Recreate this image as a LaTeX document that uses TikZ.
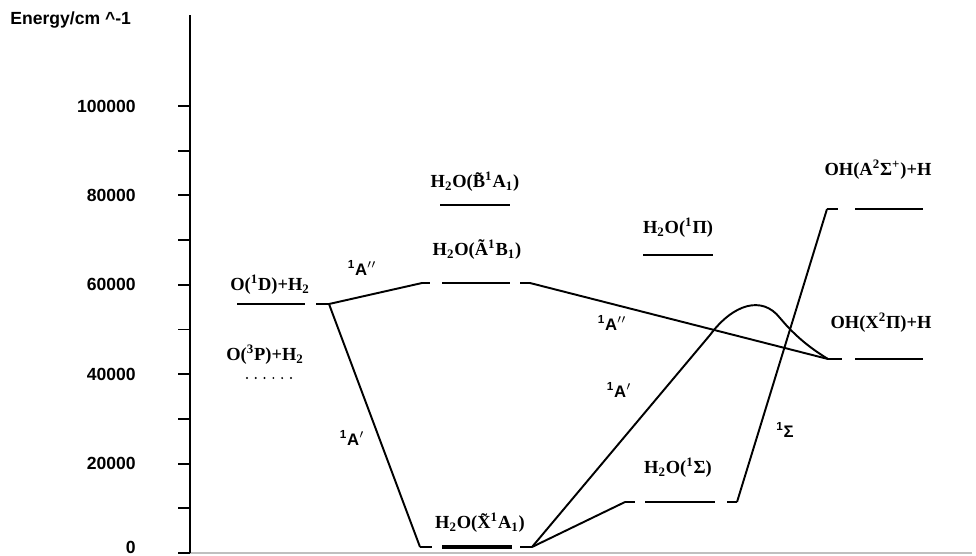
\documentclass[tikz,border=0pt]{standalone}
\usepackage{fontspec}
\setmainfont{Liberation Serif}
\setsansfont{Liberation Sans}
\usetikzlibrary{positioning}
\tikzset{
  nivel/.style={line width=1.25pt},
  enlace/.style={line width=1.1pt,line join=round},
  etiq/.style={font=\bfseries\fontsize{10.5}{12}\selectfont,inner sep=1pt},
  sim/.style={font=\sffamily\bfseries\fontsize{9.5}{11}\selectfont,inner sep=1pt},
  eje/.style={font=\sffamily\bfseries\fontsize{10}{12}\selectfont,anchor=east,inner sep=0pt},
}

\begin{document}
\begin{tikzpicture}[x=0.02cm,y=-0.02cm]
    \useasboundingbox (0,0) rectangle (976,555);
    % ejes
    \draw[gray!50,line width=1.2pt] (190,553) -- (972,553);
    \draw[line width=1.2pt] (190,553) -- (190,15);
    \foreach \k in {0,...,10}
      \draw[line width=1.1pt] (178,{553-44.7*\k}) -- (190,{553-44.7*\k});
    \foreach \k/\v in {2/20000,4/40000,6/60000,8/80000,10/100000}
      \node[eje] (t\k) at (136,{553-44.7*\k}) {\v};
    \node[eje,anchor=south east] (t0) at (136,554) {0};
    \node[eje,anchor=west] (titulo) at (10,20) {Energy/cm \textasciicircum-1};
    % puntos de union
    \coordinate (oD) at (329,304);
    \coordinate (aL) at (422,283); \coordinate (aR) at (530,283);
    \coordinate (xL) at (420,547); \coordinate (xR) at (532,547);
    \coordinate (sL) at (625,502); \coordinate (sR) at (737,502);
    \coordinate (ohA) at (827,209); \coordinate (ohX) at (828,359);
    % niveles
    \draw[nivel] (237,304) -- (305,304) (316,304) -- (oD);
    \draw[nivel,line cap=round,dash pattern=on 0pt off 5pt] (247,378) -- (296,378);
    \draw[nivel] (440,205) -- (510,205);
    \draw[nivel] (aL) -- (430,283) (442,283) -- (510,283) (520,283) -- (aR);
    \draw[nivel] (xL) -- (432,547) (520,547) -- (xR);
    \draw[line width=1.9pt] (442,547) -- (512,547);
    \draw[nivel] (643,255) -- (713,255);
    \draw[nivel] (sL) -- (635,502) (645,502) -- (715,502) (727,502) -- (sR);
    \draw[nivel] (ohA) -- (838,209) (855,209) -- (923,209);
    \draw[nivel] (ohX) -- (842,359) (855,359) -- (923,359);
    % correlaciones
    \draw[enlace] (oD) -- (aL);
    \draw[enlace] (oD) -- (xL);
    \draw[enlace] (aR) -- (ohX);
    \draw[enlace] (xR) -- (sL);
    \draw[enlace] (sR) -- (ohA);
    \draw[enlace] (xR) -- (710,335) .. controls (733,304) and (762,295) .. (780,318)
      .. controls (795,336) and (810,348) .. (ohX);
    % estados
    \node[etiq] (o1d) at (270,285) {O(\textsuperscript{1}D)+H\textsubscript{2}};
    \node[etiq] (o3p) at (265,355) {O(\textsuperscript{3}P)+H\textsubscript{2}};
    \node[etiq] (wb) at (475,182) {H\textsubscript{2}O(\~{B}\textsuperscript{1}A\textsubscript{1})};
    \node[etiq] (wa) at (477,250) {H\textsubscript{2}O(\~{A}\textsuperscript{1}B\textsubscript{1})};
    \node[etiq] (wx) at (480,523) {H\textsubscript{2}O(\~{X}\textsuperscript{1}A\textsubscript{1})};
    \node[etiq] (wpi) at (678,228) {H\textsubscript{2}O(\textsuperscript{1}Π)};
    \node[etiq] (wsig) at (678,468) {H\textsubscript{2}O(\textsuperscript{1}Σ)};
    \node[etiq] (oha) at (878,170) {OH(A\textsuperscript{2}Σ\textsuperscript{+})+H};
    \node[etiq] (ohx) at (881,323) {OH(X\textsuperscript{2}Π)+H};
    % simetrias
    \node[sim] (s1) at (362,268) {\textsuperscript{1}A$''$};
    \node[sim] (s2) at (352,438) {\textsuperscript{1}A$'$};
    \node[sim] (s3) at (612,323) {\textsuperscript{1}A$''$};
    \node[sim] (s4) at (619,390) {\textsuperscript{1}A$'$};
    \node[sim] (s5) at (785,430) {\textsuperscript{1}Σ};
\end{tikzpicture}
\end{document}
